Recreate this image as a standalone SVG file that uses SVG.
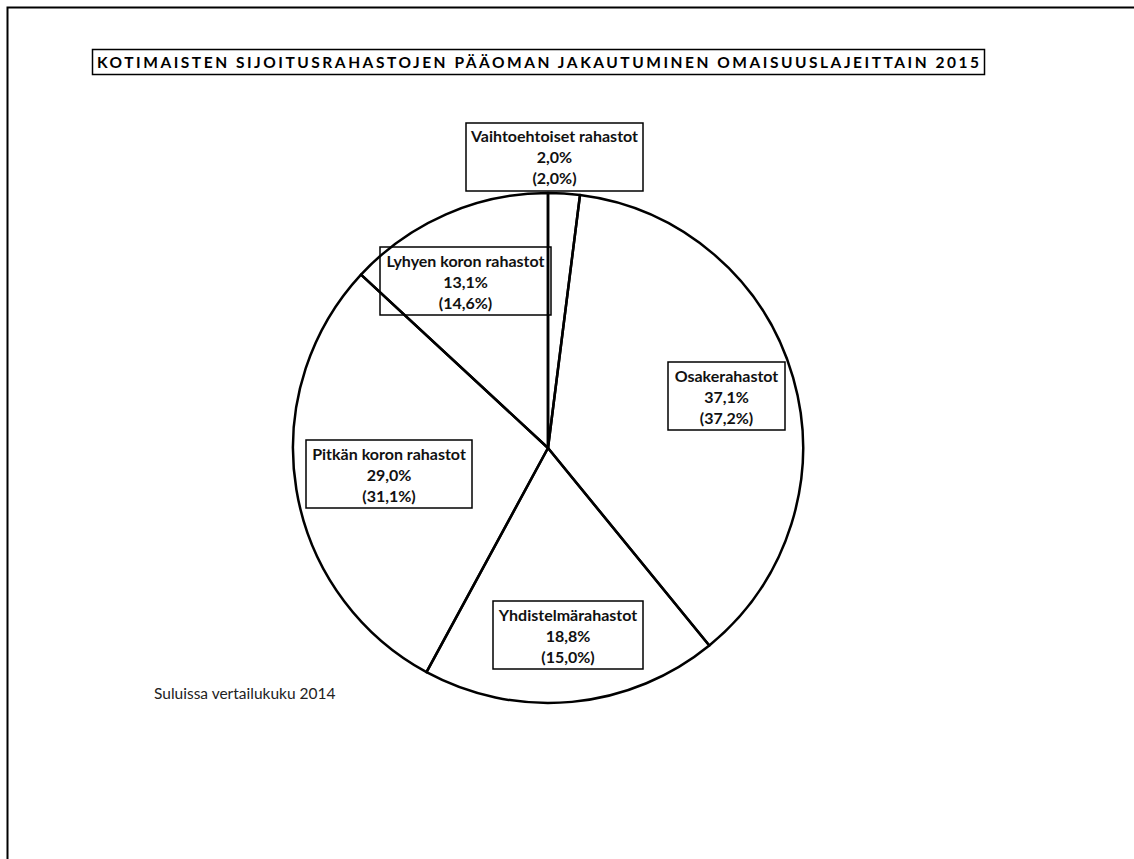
<svg xmlns="http://www.w3.org/2000/svg" width="1134" height="859" viewBox="0 0 1134 859">
<style>
.frame{fill:none;stroke:#000;stroke-width:2}
.slice{fill:none;stroke:#000;stroke-width:2.5;stroke-linejoin:round}
.box{fill:none;stroke:#000;stroke-width:1.5}
.lbl{font-family:Lato,"Liberation Sans",sans-serif;font-weight:bold;font-size:16px;fill:#111;text-anchor:middle}
.title{font-family:Lato,"Liberation Sans",sans-serif;font-weight:bold;font-size:15.5px;fill:#000}
.note{font-family:Lato,"Liberation Sans",sans-serif;font-size:15.5px;fill:#222}
</style>
<rect width="1134" height="859" fill="#fff"/>
<path class="frame" d="M7.5 859 V7.5 H1134"/>
<g id="title">
<rect class="box" x="92.5" y="49.5" width="892" height="25"/>
<text class="title" x="97" y="67.5" textLength="882" lengthAdjust="spacing">KOTIMAISTEN SIJOITUSRAHASTOJEN PÄÄOMAN JAKAUTUMINEN OMAISUUSLAJEITTAIN 2015</text>
</g>
<g id="pie">
<g id="vaihtoehtoiset">
<path class="slice" d="M548 448 L548 193 A255 255 0 0 1 580 195 Z"/>
<rect class="box" x="466" y="123" width="177" height="68"/>
<text class="lbl" x="554.5" y="142">Vaihtoehtoiset rahastot</text>
<text class="lbl" x="554.5" y="163">2,0%</text>
<text class="lbl" x="554.5" y="184">(2,0%)</text>
</g>
<g id="osake">
<path class="slice" d="M548 448 L580 195 A255 255 0 0 1 709.3 645.5 Z"/>
<rect class="box" x="668" y="362" width="117" height="68"/>
<text class="lbl" x="726.5" y="382">Osakerahastot</text>
<text class="lbl" x="726.5" y="403">37,1%</text>
<text class="lbl" x="726.5" y="424">(37,2%)</text>
</g>
<g id="yhdistelma">
<path class="slice" d="M548 448 L709.3 645.5 A255 255 0 0 1 426.5 672.2 Z"/>
<rect class="box" x="493" y="601" width="150" height="68"/>
<text class="lbl" x="568" y="621">Yhdistelmärahastot</text>
<text class="lbl" x="568" y="642">18,8%</text>
<text class="lbl" x="568" y="663">(15,0%)</text>
</g>
<g id="pitkan">
<path class="slice" d="M548 448 L426.5 672.2 A255 255 0 0 1 361 274.6 Z"/>
<rect class="box" x="306" y="440" width="166" height="68"/>
<text class="lbl" x="389" y="460">Pitkän koron rahastot</text>
<text class="lbl" x="389" y="481">29,0%</text>
<text class="lbl" x="389" y="502">(31,1%)</text>
</g>
<g id="lyhyen">
<path class="slice" d="M548 448 L361 274.6 A255 255 0 0 1 548 193 Z"/>
<rect class="box" x="380" y="247" width="171" height="68"/>
<text class="lbl" x="465.5" y="267">Lyhyen koron rahastot</text>
<text class="lbl" x="465.5" y="288">13,1%</text>
<text class="lbl" x="465.5" y="309">(14,6%)</text>
</g>
</g>
<g id="connectors"></g>
<g id="footnote">
<text class="note" x="154" y="699">Suluissa vertailukuku 2014</text>
</g>
</svg>
